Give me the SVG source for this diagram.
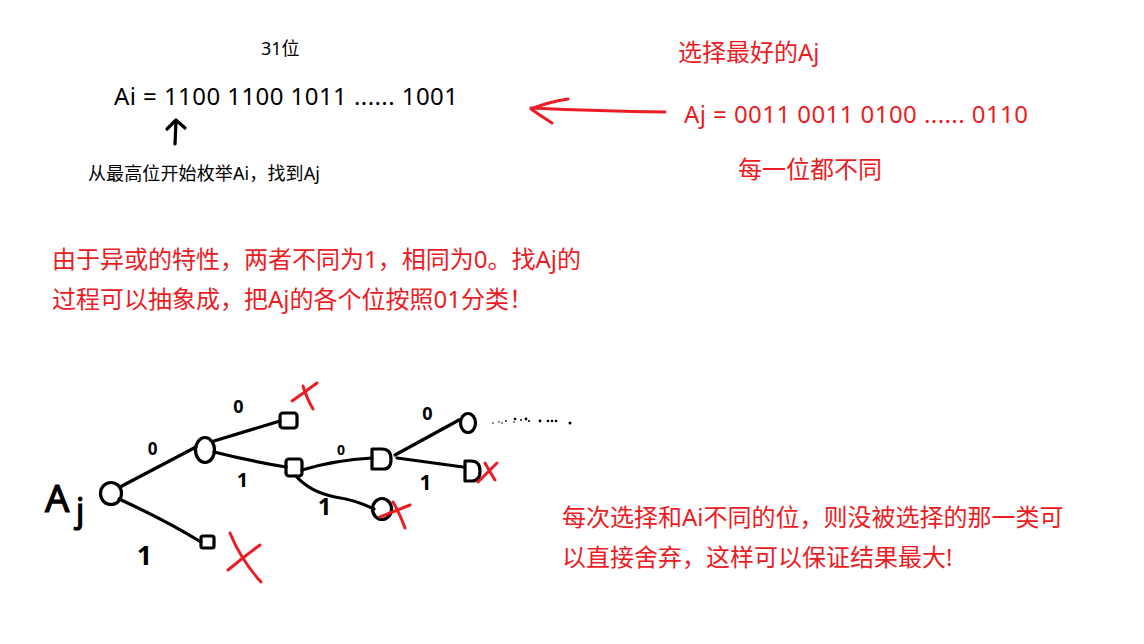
<svg xmlns="http://www.w3.org/2000/svg" width="1144" height="644" viewBox="0 0 1144 644">
<style>
.t{font-family:"Noto Sans","Noto Sans CJK SC",sans-serif;fill:#000}
.r{fill:#ec1c24}
.ink{fill:none;stroke:#000;stroke-width:3.2;stroke-linecap:round;stroke-linejoin:round}
.red{fill:none;stroke:#ec1c24;stroke-width:3;stroke-linecap:round;stroke-linejoin:round}
.lbl{font-family:"Noto Sans",sans-serif;font-weight:bold;fill:#000;text-anchor:middle}
.hand{font-family:"Noto Sans",sans-serif;fill:#000;stroke:#000;stroke-width:1.2}
.dot{fill:#000}
</style>
<rect width="1144" height="644" fill="#fff"/>

<g id="header">
<text class="t" x="261" y="55" font-size="18">31位</text>
<text class="t" x="114" y="105" font-size="24" textLength="344">Ai = 1100 1100 1011 ...... 1001</text>
<path class="ink" d="M176,121 L175,144 M167,129 L176,120 L185,128"/>
<text class="t" x="88" y="180" font-size="18" textLength="232">从最高位开始枚举Ai，找到Aj</text>
<text class="t r" x="678" y="61" font-size="24">选择最好的Aj</text>
<text class="t r" x="684" y="123" font-size="24" textLength="344">Aj = 0011 0011 0100 ...... 0110</text>
<path class="red" d="M665,112 Q600,111 531,108 M568,99 Q548,102 531,109 Q541,116 552,123"/>
<text class="t r" x="738" y="178" font-size="24">每一位都不同</text>
</g>

<g id="explain">
<text class="t r" x="52" y="268" font-size="24">由于异或的特性，两者不同为1，相同为0。找Aj的</text>
<text class="t r" x="52" y="308" font-size="24">过程可以抽象成，把Aj的各个位按照01分类！</text>
</g>

<g id="conclusion">
<text class="t r" x="562" y="526" font-size="24">每次选择和Ai不同的位，则没被选择的那一类可</text>
<text class="t r" x="562" y="566" font-size="24">以直接舍弃，这样可以保证结果最大!</text>
</g>

<g id="connectors">
<path class="ink" d="M120,487 Q160,466 196,447"/>
<path class="ink" d="M119,499 Q165,520 201,542"/>
<path class="ink" d="M214,441 L280,421"/>
<path class="ink" d="M214,452 Q250,461 286,467"/>
<path class="ink" d="M302,470 Q335,460 372,458"/>
<path class="ink" d="M296,476 Q310,492 335,497 Q356,500 374,509"/>
<path class="ink" d="M395,455 L459,420"/>
<path class="ink" d="M397,458 L463,467"/>
<text class="lbl" x="152.5" y="455" font-size="17">0</text>
<text class="lbl" x="144.5" y="565" font-size="27">1</text>
<text class="lbl" x="238.5" y="413" font-size="18">0</text>
<text class="lbl" x="242.5" y="487" font-size="20">1</text>
<text class="lbl" x="341" y="455" font-size="14">0</text>
<text class="lbl" x="324.5" y="515" font-size="24">1</text>
<text class="lbl" x="427.5" y="420" font-size="18">0</text>
<text class="lbl" x="425.5" y="490" font-size="21">1</text>
</g>

<g id="root">
<text class="hand" x="45" y="512" font-size="38">A</text>
<text class="hand" x="76" y="522" font-size="32">j</text>
<ellipse class="ink" cx="111" cy="493.5" rx="10.5" ry="11"/>
</g>
<g id="n0">
<ellipse class="ink" cx="205" cy="450" rx="9.5" ry="12.5"/>
</g>
<g id="n1">
<rect class="ink" x="201" y="536" width="13" height="12" rx="2"/>
<path class="red" d="M228,570 Q245,556 260,545 M230,533 Q241,560 261,582"/>
</g>
<g id="n00">
<rect class="ink" x="280" y="413" width="17" height="15" rx="3"/>
<path class="red" d="M292,401 Q305,392 317,383 M303,386 Q307,399 313,409"/>
</g>
<g id="n01">
<rect class="ink" x="286" y="459" width="16" height="17" rx="3"/>
</g>
<g id="n010">
<path class="ink" d="M372,449 L372,469 L384,469 Q391,469 391,459 Q391,449 382,449 Z"/>
</g>
<g id="n011">
<ellipse class="ink" cx="382" cy="509" rx="9.5" ry="10.5"/>
<path class="red" d="M380,517 Q395,511 410,505 M393,502 Q400,514 405,528"/>
</g>
<g id="n0100">
<ellipse class="ink" cx="468" cy="423" rx="7.5" ry="9.5"/>
<circle class="dot" cx="493" cy="423" r="0.8"/>
<circle class="dot" cx="499" cy="422" r="0.8"/>
<circle class="dot" cx="502" cy="423" r="0.8"/>
<circle class="dot" cx="506" cy="421" r="0.9"/>
<circle class="dot" cx="515" cy="419" r="1.3"/>
<circle class="dot" cx="514" cy="422" r="0.8"/>
<circle class="dot" cx="521" cy="420" r="0.9"/>
<circle class="dot" cx="526" cy="419" r="1.4"/>
<circle class="dot" cx="529" cy="421" r="1.1"/>
<circle class="dot" cx="540" cy="421" r="1.4"/>
<circle class="dot" cx="548" cy="421" r="1.3"/>
<circle class="dot" cx="552" cy="421" r="1.3"/>
<circle class="dot" cx="556" cy="421" r="1.3"/>
<circle class="dot" cx="570" cy="423" r="1.5"/>
</g>
<g id="n0101">
<path class="ink" d="M465,461 L465,481 L472,481 Q480,481 480,471 Q480,461 471,461 Z"/>
<path class="red" d="M478,482 Q488,472 497,463 M485,463 Q490,472 495,480"/>
</g>
</svg>
